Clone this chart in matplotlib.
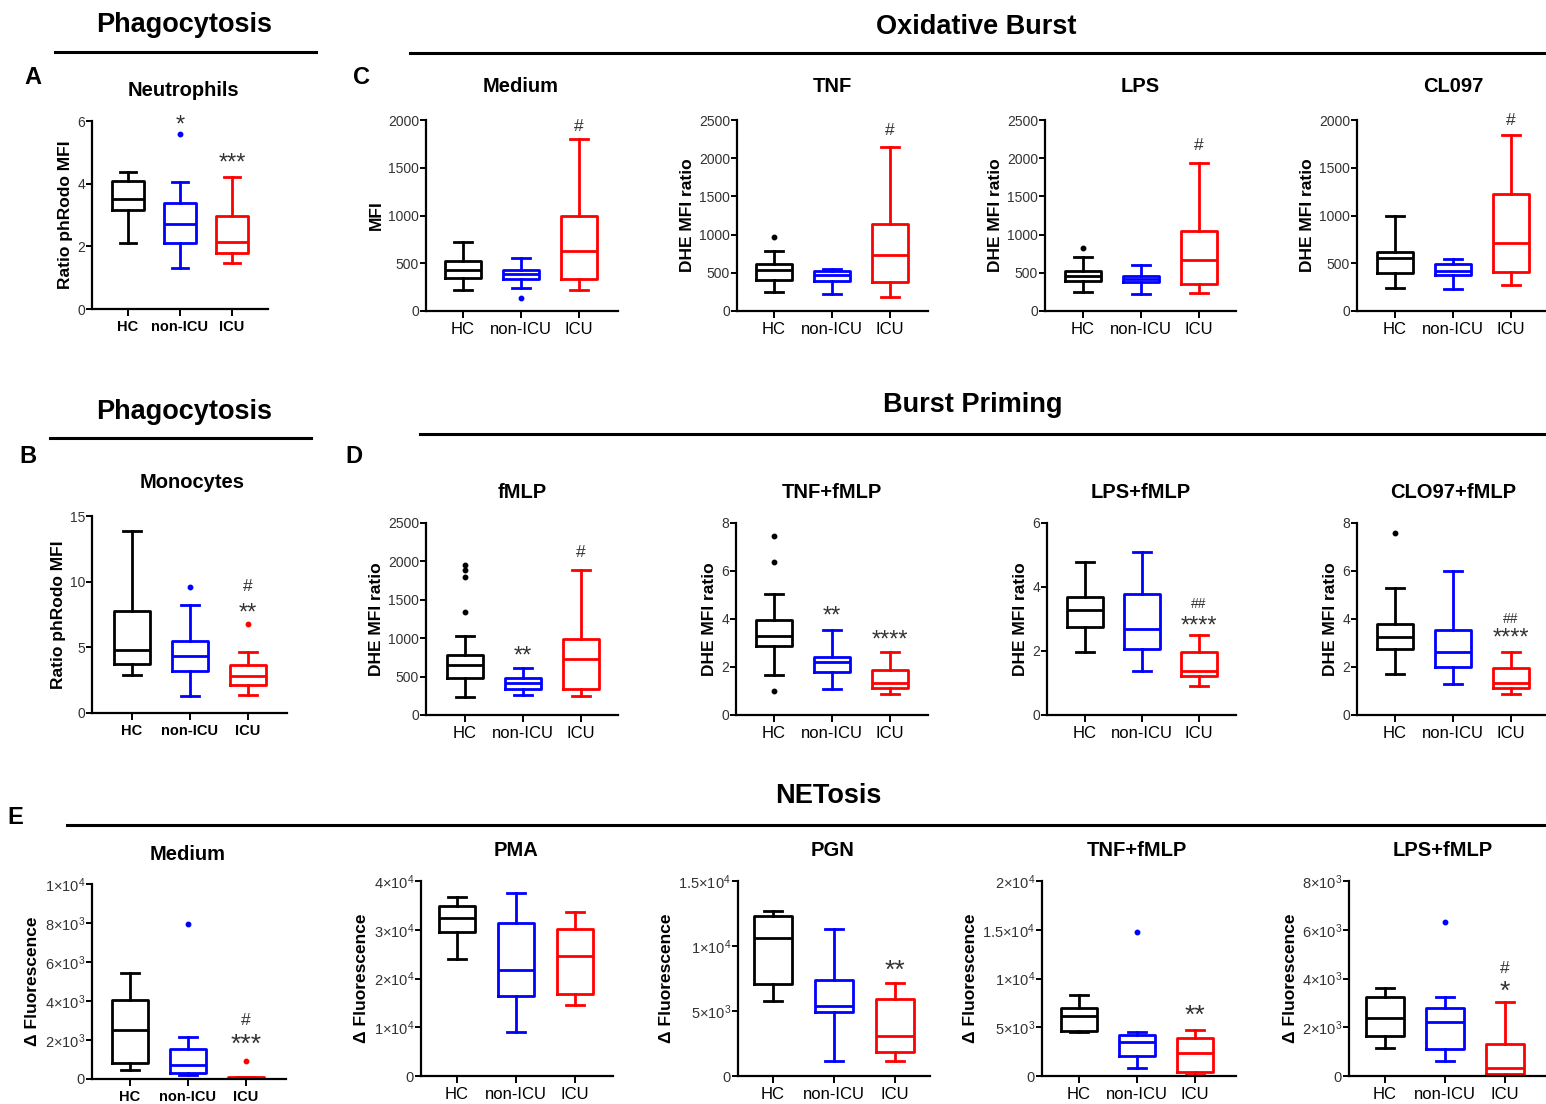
import math
import matplotlib
matplotlib.use("Agg")
import matplotlib.pyplot as plt
from matplotlib.lines import Line2D
from matplotlib.ticker import FuncFormatter

plt.rcParams["font.family"] = ["Liberation Sans", "DejaVu Sans"]
plt.rcParams["mathtext.fontset"] = "custom"
plt.rcParams["mathtext.rm"] = "Liberation Sans"
plt.rcParams["mathtext.it"] = "Liberation Sans"
plt.rcParams["mathtext.bf"] = "Liberation Sans:bold"

W, H = 1546, 1104

GROUPS = ["HC", "non-ICU", "ICU"]
COLORS = ["#000000", "#0000ff", "#ff0000"]

# box stats per group: (whislo, q1, med, q3, whishi, fliers)
NEUTROPHILS = [(2.11, 3.16, 3.50, 4.07, 4.38, []),
               (1.31, 2.12, 2.72, 3.38, 4.04, [5.58]),
               (1.48, 1.80, 2.13, 2.97, 4.22, [])]
MONOCYTES = [(2.89, 3.70, 4.81, 7.75, 13.88, []),
             (1.27, 3.22, 4.36, 5.47, 8.23, [9.60]),
             (1.34, 2.10, 2.84, 3.65, 4.66, [6.76])]
OB_MEDIUM = [(217, 350, 427, 524, 724, []),
             (241, 332, 385, 434, 559, [140]),
             (224, 339, 626, 993, 1797, [])]
OB_TNF = [(249, 402, 542, 610, 782, [970]),
          (227, 393, 468, 520, 555, []),
          (184, 380, 730, 1136, 2150, [])]
OB_LPS = [(249, 393, 455, 524, 708, [826]),
          (219, 380, 424, 459, 608, []),
          (236, 358, 664, 1045, 1940, [])]
OB_CL097 = [(241, 402, 556, 619, 1000, []),
            (231, 381, 420, 497, 549, []),
            (273, 406, 713, 1220, 1839, [])]
BP_FMLP = [(230, 482, 655, 786, 1024, [1950, 1890, 1800, 1345]),
           (265, 343, 417, 482, 612, []),
           (243, 343, 733, 990, 1892, [])]
BP_TNF = [(1.65, 2.86, 3.28, 3.94, 5.06, [7.47, 6.36, 0.99]),
          (1.08, 1.79, 2.19, 2.42, 3.56, []),
          (0.89, 1.13, 1.33, 1.88, 2.61, [])]
BP_LPS = [(1.98, 2.75, 3.29, 3.69, 4.77, []),
          (1.39, 2.07, 2.69, 3.78, 5.09, []),
          (0.90, 1.21, 1.36, 1.98, 2.49, [])]
BP_CLO97 = [(1.69, 2.77, 3.23, 3.81, 5.29, [7.58]),
            (1.30, 2.00, 2.63, 3.53, 6.02, []),
            (0.89, 1.13, 1.34, 1.97, 2.63, [])]
NET_MEDIUM = [(446, 840, 2504, 4031, 5455, []),
              (200, 330, 703, 1561, 2161, [7940]),
              (0, 15, 35, 80, 100, [943])]
NET_PMA = [(23930, 29600, 32480, 34940, 36786, []),
           (9090, 16410, 21740, 31320, 37470, []),
           (14560, 16820, 24620, 30150, 33570, [])]
NET_PGN = [(5770, 7050, 10590, 12330, 12720, []),
           (1180, 4950, 5410, 7380, 11310, []),
           (1180, 1870, 3100, 5900, 7130, [])]
NET_TNF = [(4480, 4610, 6150, 6940, 8310, []),
           (790, 2080, 3520, 4210, 4550, [14800]),
           (100, 400, 2390, 3860, 4720, [])]
NET_LPS = [(1135, 1641, 2367, 3228, 3625, []),
           (616, 1108, 2202, 2804, 3228, [6334]),
           (14, 68, 315, 1313, 3023, [])]

# significance marks: (text, group index, y value)
SIG_NEUTROPHILS = [("*", 1, 5.85), ("***", 2, 4.65)]
SIG_MONOCYTES = [("#", 2, 9.6), ("**", 2, 7.6)]
SIG_OB_MEDIUM = [("#", 2, 1930)]
SIG_OB_TNF = [("#", 2, 2360)]
SIG_OB_LPS = [("#", 2, 2160)]
SIG_OB_CL097 = [("#", 2, 1990)]
SIG_BP_FMLP = [("**", 1, 760), ("#", 2, 2110)]
SIG_BP_TNF = [("**", 1, 4.12), ("****", 2, 3.12)]
SIG_BP_LPS = [("##", 2, 3.48), ("****", 2, 2.78)]
SIG_BP_CLO97 = [("##", 2, 4.02), ("****", 2, 3.20)]
SIG_NET_MEDIUM = [("#", 2, 2980), ("***", 2, 1750)]
SIG_NET_PGN = [("**", 2, 8050)]
SIG_NET_TNF = [("**", 2, 6200)]
SIG_NET_LPS = [("#", 2, 4400), ("*", 2, 3450)]


def sci_label(v, pos=None):
    if v == 0:
        return "0"
    exp = int(math.floor(math.log10(v)))
    mant = v / 10 ** exp
    return r"$%g{\times}10^{%d}$" % (mant, exp)


fig = plt.figure(figsize=(W / 100, H / 100), dpi=100)


def px_axes(left, top, right, bottom):
    return fig.add_axes([left / W, 1 - bottom / H, (right - left) / W, (bottom - top) / H])


def draw_panel(stats, sigs, box, title, title_xy, ylabel, yticks, sci=False, bold_x=False):
    yaxis, xend, top, bottom, hc, sp = box
    ax = px_axes(yaxis, top, xend, bottom)
    for i, (lo, q1, med, q3, hi, fl) in enumerate(stats):
        c = COLORS[i]
        ax.bxp([dict(whislo=lo, q1=q1, med=med, q3=q3, whishi=hi, fliers=fl)],
               positions=[i], widths=0.62, manage_ticks=False,
               boxprops=dict(color=c, lw=2.0),
               whiskerprops=dict(color=c, lw=2.0),
               capprops=dict(color=c, lw=2.0),
               medianprops=dict(color=c, lw=2.0),
               flierprops=dict(marker="o", markerfacecolor=c, markeredgecolor=c,
                               markersize=3.2, linestyle="none"))
    for text, gi, y in sigs:
        if "#" in text:
            fs = 10 if len(text) > 1 else 12.5
        else:
            fs = 19 if sci else 17
        ax.text(gi, y, text, ha="center", va="center", fontsize=fs, color="#333333")
    ax.set_xlim(-(hc - yaxis) / sp, 2 + (xend - hc - 2 * sp) / sp)
    ax.set_ylim(0, yticks[-1])
    ax.set_yticks(yticks)
    if sci:
        ax.yaxis.set_major_formatter(FuncFormatter(sci_label))
    ax.set_xticks([0, 1, 2])
    ax.set_xticklabels(GROUPS, fontsize=10.5 if bold_x else 12,
                       fontweight="bold" if bold_x else "normal")
    ax.tick_params(axis="y", labelsize=10.5 if sci else 10, labelcolor="#333333",
                   length=4, width=1.4, pad=1)
    ax.tick_params(axis="x", length=5, width=1.4, pad=3)
    for s in ("top", "right"):
        ax.spines[s].set_visible(False)
    for s in ("left", "bottom"):
        ax.spines[s].set_linewidth(1.6)
    ax.set_ylabel(ylabel, fontsize=12.5, fontweight="bold", labelpad=3)
    fig.text(title_xy[0] / W, 1 - title_xy[1] / H, title, ha="center", va="center",
             fontsize=14.5, fontweight="bold")
    return ax


# row A / C
draw_panel(NEUTROPHILS, SIG_NEUTROPHILS, (92, 268, 121, 309, 128, 52), "Neutrophils", (183, 90),
           "Ratio phRodo MFI", [0, 2, 4, 6], bold_x=True)
draw_panel(OB_MEDIUM, SIG_OB_MEDIUM, (426, 618, 120, 311, 463, 58), "Medium", (521, 87),
           "MFI", [0, 500, 1000, 1500, 2000])
draw_panel(OB_TNF, SIG_OB_TNF, (737, 928, 120, 311, 774, 58), "TNF", (832, 87),
           "DHE MFI ratio", [0, 500, 1000, 1500, 2000, 2500])
draw_panel(OB_LPS, SIG_OB_LPS, (1045, 1236, 120, 311, 1083, 58), "LPS", (1140, 87),
           "DHE MFI ratio", [0, 500, 1000, 1500, 2000, 2500])
draw_panel(OB_CL097, SIG_OB_CL097, (1357, 1545, 120, 311, 1395, 58), "CL097", (1453, 87),
           "DHE MFI ratio", [0, 500, 1000, 1500, 2000])

# row B / D
draw_panel(MONOCYTES, SIG_MONOCYTES, (92, 287, 516, 713, 132, 58), "Monocytes", (192, 483),
           "Ratio phRodo MFI", [0, 5, 10, 15], bold_x=True)
draw_panel(BP_FMLP, SIG_BP_FMLP, (426, 618, 523, 715, 465, 58), "fMLP", (522, 492),
           "DHE MFI ratio", [0, 500, 1000, 1500, 2000, 2500])
draw_panel(BP_TNF, SIG_BP_TNF, (736, 928, 523, 715, 774, 58), "TNF+fMLP", (832, 492),
           "DHE MFI ratio", [0, 2, 4, 6, 8])
draw_panel(BP_LPS, SIG_BP_LPS, (1047, 1236, 523, 715, 1085, 57), "LPS+fMLP", (1141, 492),
           "DHE MFI ratio", [0, 2, 4, 6])
draw_panel(BP_CLO97, SIG_BP_CLO97, (1357, 1545, 523, 715, 1395, 58), "CLO97+fMLP", (1453, 492),
           "DHE MFI ratio", [0, 2, 4, 6, 8])

# row E
draw_panel(NET_MEDIUM, SIG_NET_MEDIUM, (92, 286, 884, 1079, 130, 58), "Medium", (188, 854),
           "Δ Fluorescence", [0, 2000, 4000, 6000, 8000, 10000], sci=True, bold_x=True)
draw_panel(NET_PMA, [], (421, 613, 881, 1076, 457, 59), "PMA", (516, 851),
           "Δ Fluorescence", [0, 10000, 20000, 30000, 40000], sci=True)
draw_panel(NET_PGN, SIG_NET_PGN, (738, 930, 881, 1076, 773, 61), "PGN", (833, 851),
           "Δ Fluorescence", [0, 5000, 10000, 15000], sci=True)
draw_panel(NET_TNF, SIG_NET_TNF, (1042, 1236, 881, 1076, 1079, 58), "TNF+fMLP", (1137, 851),
           "Δ Fluorescence", [0, 5000, 10000, 15000, 20000], sci=True)
draw_panel(NET_LPS, SIG_NET_LPS, (1349, 1545, 881, 1076, 1385, 60), "LPS+fMLP", (1443, 851),
           "Δ Fluorescence", [0, 2000, 4000, 6000, 8000], sci=True)

# section headers with rules
for text, (tx, ty), (x0, x1, ly) in [
    ("Phagocytosis", (184, 25), (55, 316, 52)),
    ("Oxidative Burst", (976, 27), (410, 1546, 53)),
    ("Phagocytosis", (184, 412), (50, 311, 438)),
    ("Burst Priming", (973, 405), (420, 1546, 434)),
    ("NETosis", (828, 796), (67, 1546, 825)),
]:
    fig.text(tx / W, 1 - ty / H, text, ha="center", va="center", fontsize=19.5, fontweight="bold")
    fig.add_artist(Line2D([x0 / W, x1 / W], [1 - ly / H] * 2, transform=fig.transFigure,
                          color="black", lw=2.2))

for letter, (lx, ly) in [("A", (33, 77)), ("C", (362, 77)), ("B", (28, 456)),
                         ("D", (354, 456)), ("E", (15, 817))]:
    fig.text(lx / W, 1 - ly / H, letter, ha="center", va="center", fontsize=17, fontweight="bold")

fig.savefig("out.png", dpi=100)
